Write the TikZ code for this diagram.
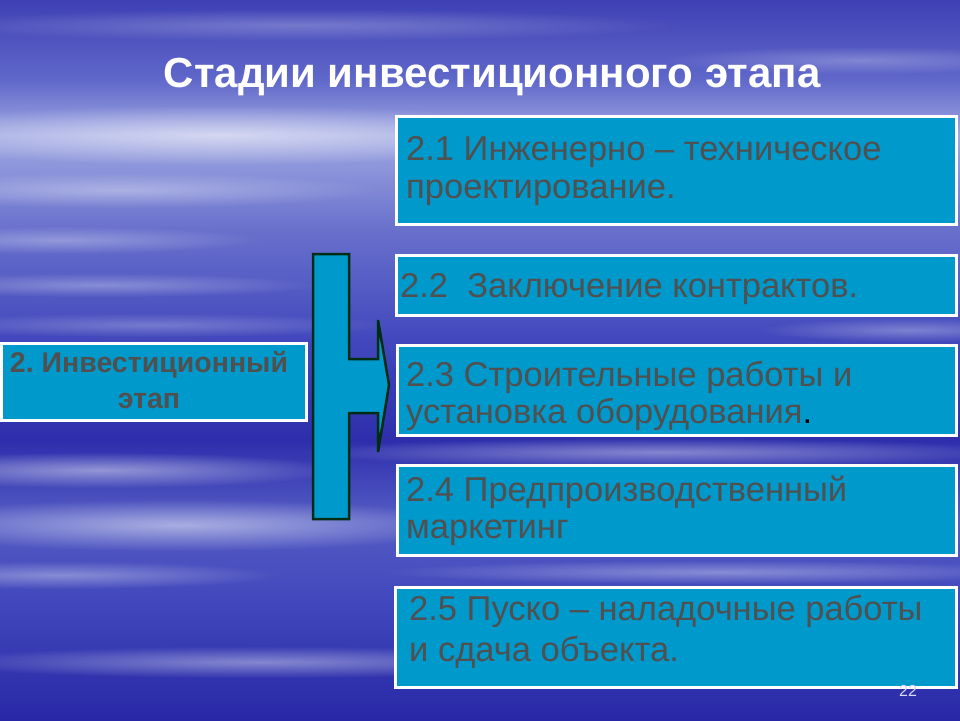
\documentclass[tikz,border=0pt]{standalone}
\usepackage{fontspec}
\setmainfont{Liberation Sans}
\usetikzlibrary{fadings}
\frenchspacing
\definecolor{boxfill}{RGB}{0,153,204}
\definecolor{txtgray}{RGB}{80,80,80}
\definecolor{arrowline}{RGB}{0,45,20}
\definecolor{bgA}{RGB}{62,64,180}
\definecolor{bgB}{RGB}{96,104,202}
\definecolor{bgC}{RGB}{160,168,226}
\definecolor{bgD}{RGB}{104,112,204}
\definecolor{bgE}{RGB}{66,72,188}
\definecolor{bgF}{RGB}{46,46,172}
\definecolor{bgG}{RGB}{84,92,196}
\definecolor{bgH}{RGB}{40,40,166}
\tikzfading[name=softfade, inner color=transparent!0, outer color=transparent!100]
\tikzset{
  band/.style={draw=none},
  cloud/.style={fill=white, draw=none, path fading=softfade},
  stagebox/.style={draw=white, line width=3pt, fill=boxfill, minimum width=560pt, inner sep=0pt},
  stagetext/.style={anchor=west, text=txtgray, align=left, inner sep=0pt, font=\fontsize{34.5}{37.5}\selectfont},
  mainbox/.style={draw=white, line width=3pt, fill=boxfill, minimum width=305pt, minimum height=77pt, inner sep=0pt},
  maintext/.style={text=txtgray, align=center, inner sep=0pt, font=\bfseries\fontsize{28.5}{36}\selectfont},
  bracearrow/.style={draw=arrowline, line width=2.5pt, fill=boxfill, line join=miter},
}
\begin{document}
\begin{tikzpicture}[x=1pt,y=-1pt]
\useasboundingbox (0,0) rectangle (960,720);
% background bands
\shade[band, top color=bgA, bottom color=bgB] (0,0) rectangle (960,80);
\shade[band, top color=bgB, bottom color=bgC] (0,80) rectangle (960,135);
\shade[band, top color=bgC, bottom color=bgD] (0,135) rectangle (960,230);
\shade[band, top color=bgD, bottom color=bgE] (0,230) rectangle (960,340);
\shade[band, top color=bgE, bottom color=bgF] (0,340) rectangle (960,440);
\shade[band, top color=bgF, bottom color=bgG] (0,440) rectangle (960,520);
\shade[band, top color=bgG, bottom color=bgE] (0,520) rectangle (960,600);
\shade[band, top color=bgE, bottom color=bgH] (0,600) rectangle (960,720);
% cloud streaks
\fill[cloud, opacity=0.55] (220,135) ellipse (360pt and 30pt);
\fill[cloud, opacity=0.35] (120,190) ellipse (260pt and 18pt);
\fill[cloud, opacity=0.3] (60,240) ellipse (200pt and 14pt);
\fill[cloud, opacity=0.3] (100,285) ellipse (220pt and 12pt);
\fill[cloud, opacity=0.25] (150,325) ellipse (240pt and 12pt);
\fill[cloud, opacity=0.45] (100,470) ellipse (240pt and 18pt);
\fill[cloud, opacity=0.5] (180,525) ellipse (300pt and 26pt);
\fill[cloud, opacity=0.35] (60,575) ellipse (220pt and 14pt);
\fill[cloud, opacity=0.4] (660,452) ellipse (360pt and 14pt);
\fill[cloud, opacity=0.35] (720,572) ellipse (340pt and 12pt);
\fill[cloud, opacity=0.4] (260,662) ellipse (330pt and 16pt);
\fill[cloud, opacity=0.3] (910,330) ellipse (150pt and 12pt);
\fill[cloud, opacity=0.25] (300,25) ellipse (380pt and 16pt);
\fill[cloud, opacity=0.25] (860,60) ellipse (200pt and 14pt);
% title
\node[text=white, font=\bfseries\fontsize{42}{46}\selectfont] (title) at (492,77) {Стадии инвестиционного этапа};
% main box
\node[mainbox] (main) at (153.5,381.5) {};
\node[maintext] (maintxt) at (149,380) {2. Инвестиционный\\этап};
% brace arrow
\draw[bracearrow] (313,254) coordinate (br) -- (349,254) -- (349,359) -- (378,359) -- (378,320) -- (389,385) coordinate (tip) -- (378,452) -- (378,413) -- (349,413) -- (349,519) -- (313,519) -- cycle;
% stage boxes
\node[stagebox, minimum height=108pt] (s1) at (676,170) {};
\node[stagetext] (t1) at (406,171) {2.1 Инженерно – техническое\\проектирование.};
\node[stagebox, minimum height=60pt] (s2) at (676,285) {};
\node[stagetext] (t2) at (400,289) {2.2\ \ Заключение контрактов.};
\node[stagebox, minimum height=90pt, minimum width=559pt] (s3) at (676.5,390) {};
\node[stagetext] (t3) at (406,396) {2.3 Строительные работы и\\установка оборудования{\color{black}.}};
\node[stagebox, minimum height=90pt, minimum width=559pt] (s4) at (676.5,510) {};
\node[stagetext] (t4) at (406,511) {2.4 Предпроизводственный\\маркетинг};
\node[stagebox, minimum height=100pt, minimum width=561pt] (s5) at (675.5,637) {};
\node[stagetext, font=\fontsize{34.5}{41}\selectfont] (t5) at (409,632) {2.5 Пуско – наладочные работы\\и сдача объекта.};
% page number
\node[text=white!85!blue, font=\fontsize{16}{18}\selectfont] (pg) at (908,691) {22};
\end{tikzpicture}
\end{document}
